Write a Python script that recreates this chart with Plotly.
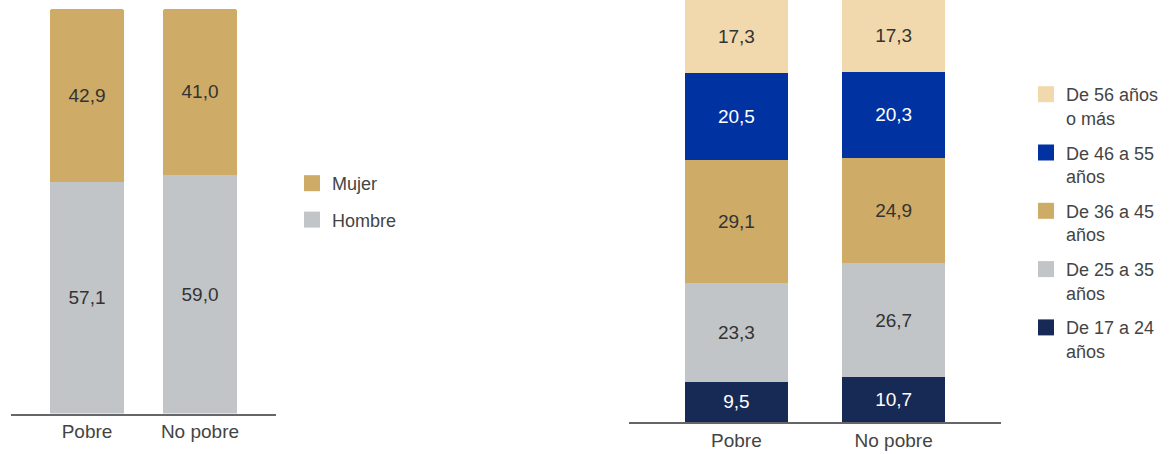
import plotly.graph_objects as go

# ---- data ----
categories = ["Pobre", "No pobre"]

sex_series = ["Hombre", "Mujer"]
hombre = [57.1, 59.0]
mujer = [42.9, 41.0]

age_series = ["De 17 a 24<br>años", "De 25 a 35<br>años", "De 36 a 45<br>años",
              "De 46 a 55<br>años", "De 56 años<br>o más"]
age_17_24 = [9.5, 10.7]
age_25_35 = [23.3, 26.7]
age_36_45 = [29.1, 24.9]
age_46_55 = [20.5, 20.3]
age_56_mas = [17.3, 17.3]

# ---- styles ----
GOLD = "#CEAB66"
GRAY = "#C2C5C8"
BEIGE = "#F1D9AD"
BLUE = "#0033A1"
NAVY = "#172A55"
DARK_TXT = "#333333"
W = 1174
H = 454
FONT = "Liberation Sans, Arial, sans-serif"


def fmt(vals):
    return [f"{v:.1f}".replace(".", ",") for v in vals]


fig = go.Figure()

left_series = [(sex_series[0], hombre, GRAY, DARK_TXT), (sex_series[1], mujer, GOLD, DARK_TXT)]
for name, vals, col, tcol in left_series:
    fig.add_trace(go.Bar(
        x=categories, y=vals, name=name, marker_color=col, marker_line_width=0,
        text=fmt(vals), textposition="inside", insidetextanchor="middle",
        textangle=0, constraintext="none",
        insidetextfont=dict(color=tcol, size=19, family=FONT),
        width=0.655, xaxis="x", yaxis="y", showlegend=False, hoverinfo="skip",
    ))

right_series = [
    (age_series[0], age_17_24, NAVY, "white"),
    (age_series[1], age_25_35, GRAY, DARK_TXT),
    (age_series[2], age_36_45, GOLD, DARK_TXT),
    (age_series[3], age_46_55, BLUE, "white"),
    (age_series[4], age_56_mas, BEIGE, DARK_TXT),
]
for name, vals, col, tcol in right_series:
    fig.add_trace(go.Bar(
        x=categories, y=vals, name=name, marker_color=col, marker_line_width=0,
        text=fmt(vals), textposition="inside", insidetextanchor="middle",
        textangle=0, constraintext="none",
        insidetextfont=dict(color=tcol, size=19, family=FONT),
        width=0.657, xaxis="x2", yaxis="y2", showlegend=False, hoverinfo="skip",
    ))

# legend entries (top to bottom)
for i, (name, vals, col, tcol) in enumerate(reversed(left_series)):
    fig.add_trace(go.Scatter(
        x=[None], y=[None], mode="markers", name=name,
        marker=dict(symbol="square", size=20, color=col),
        legend="legend", legendgroup=f"l{i}", xaxis="x", yaxis="y",
    ))
for i, (name, vals, col, tcol) in enumerate(reversed(right_series)):
    fig.add_trace(go.Scatter(
        x=[None], y=[None], mode="markers", name=name,
        marker=dict(symbol="square", size=20, color=col),
        legend="legend2", legendgroup=f"r{i}", xaxis="x2", yaxis="y2",
    ))

fig.update_layout(
    width=W, height=H,
    margin=dict(l=0, r=0, t=0, b=0),
    paper_bgcolor="white", plot_bgcolor="white",
    barmode="stack", barcornerradius=3,
    font=dict(family=FONT, color="#444444", size=19),
    xaxis=dict(domain=[11 / W, 276 / W], range=[-0.673, 1.673],
               showline=True, linecolor="#666666", linewidth=1.5,
               showgrid=False, zeroline=False, ticks="", automargin=False,
               tickfont=dict(size=19, color="#444444"), layer="below traces"),
    yaxis=dict(domain=[(H - 413.5) / H, 1], range=[0, 102.2], visible=False,
               automargin=False),
    xaxis2=dict(domain=[629 / W, 1001 / W], range=[-0.683, 1.683],
                showline=True, linecolor="#666666", linewidth=1.5,
                showgrid=False, zeroline=False, ticks="", automargin=False,
                tickfont=dict(size=19, color="#444444"), layer="below traces",
                anchor="y2"),
    yaxis2=dict(domain=[(H - 422) / H, 1], range=[0, 99.55], visible=False,
                automargin=False, anchor="x2"),
    legend=dict(x=292 / W, y=1 - 165 / H, xanchor="left", yanchor="top",
                traceorder="grouped", tracegroupgap=10, valign="top",
                font=dict(size=18, color="#444444", family=FONT),
                bgcolor="rgba(0,0,0,0)", itemclick=False, itemdoubleclick=False),
    legend2=dict(x=1026 / W, y=1 - 76 / H, xanchor="left", yanchor="top",
                 traceorder="grouped", tracegroupgap=8.5, valign="top",
                 font=dict(size=18, color="#444444", family=FONT),
                 bgcolor="rgba(0,0,0,0)", itemclick=False, itemdoubleclick=False),
    showlegend=True,
)

fig.write_html("out.html", config={"displayModeBar": False},
               post_script="document.body.style.margin='0';")
